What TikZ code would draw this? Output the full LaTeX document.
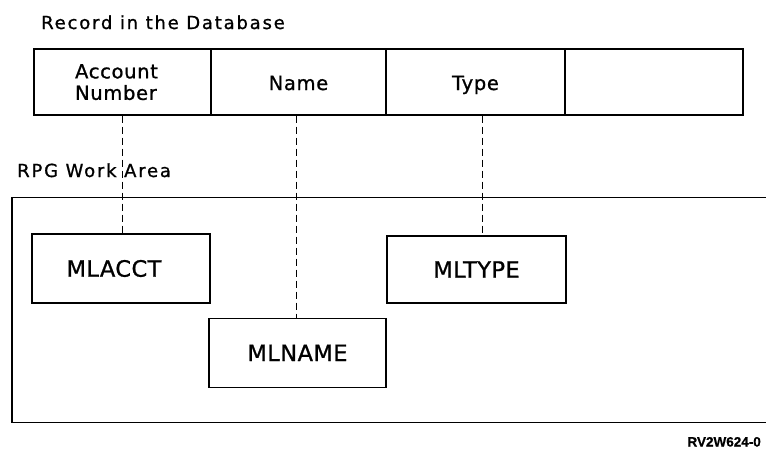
\documentclass[tikz,border=0pt]{standalone}
\usepackage{fontspec}
\setmainfont{DejaVu Sans}
\newfontfamily\titlefont[LetterSpace=10,FakeBold=1]{DejaVu Sans}
\newfontfamily\cellfont[LetterSpace=3.5,FakeBold=1]{DejaVu Sans}
\newfontfamily\boxfont[LetterSpace=2,FakeBold=1]{DejaVu Sans}
\newfontfamily\tagfont[FakeBold=0.6]{Liberation Sans}

\tikzset{
  heading/.style={anchor=base west, inner sep=0pt,
    font=\titlefont\fontsize{18}{21}\selectfont},
  fieldcell/.style={draw, line width=1.3pt, inner sep=0pt,
    minimum height=66pt, text depth=0pt, align=left,
    font=\cellfont\fontsize{19.5}{21.5}\selectfont},
  workbox/.style={draw, line width=1.3pt, inner sep=0pt,
    font=\boxfont\fontsize{22.5}{24}\selectfont},
  link/.style={line width=1pt, dash pattern=on 7pt off 4pt},
}

\begin{document}
\begin{tikzpicture}[x=1pt, y=-1pt]
  \useasboundingbox (0,0) rectangle (766,448);

  % database record
  \node[heading] (dbtitle) at (41,29) {Record in the Database};
  \node[fieldcell, minimum width=177pt] (acct) at (122.5,82) {Account\hspace*{12pt}\\Number};
  \node[fieldcell, minimum width=175pt, text height=16pt] (name) at (298.5,82) {Name};
  \node[fieldcell, minimum width=179pt, text height=16pt] (type) at (475.5,82) {Type};
  \node[fieldcell, minimum width=178pt] (spare) at (654,82) {};

  % work area, open on the right
  \node[heading] (wktitle) at (17,177) {RPG Work Area};
  \coordinate (wtr) at (766,197.5);
  \coordinate (wtl) at (12,197.5);
  \coordinate (wbl) at (12,422.5);
  \coordinate (wbr) at (766,422.5);
  \draw[line width=1.3pt] (wtr) -- (wtl) -- (wbl) -- (wbr);

  \node[workbox, minimum width=178pt, minimum height=69pt] (mlacct) at (121,268.5) {MLACCT\hspace*{14pt}};
  \node[workbox, minimum width=177pt, minimum height=69pt] (mlname) at (297.5,352.8) {MLNAME};
  \node[workbox, minimum width=179pt, minimum height=67pt] (mltype) at (476.5,269.5) {MLTYPE};

  % field-to-variable mapping
  \draw[link] (acct.south) -- (acct.south |- mlacct.north);
  \draw[link] ([xshift=-2.5pt]name.south) -- ([xshift=-2.5pt]name.south |- mlname.north);
  \draw[link] ([xshift=6.5pt]type.south) -- ([xshift=6.5pt]type.south |- mltype.north);

  \node[anchor=base east, inner sep=0pt,
    font=\tagfont\bfseries\fontsize{13.5}{15}\selectfont] (tag) at (761,446.5) {RV2W624-0};
\end{tikzpicture}
\end{document}
